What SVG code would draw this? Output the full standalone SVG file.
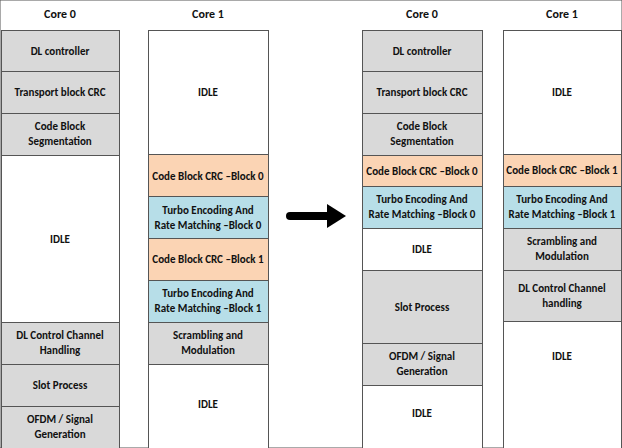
<svg xmlns="http://www.w3.org/2000/svg" width="622" height="448" viewBox="0 0 622 448">
<style>
rect{stroke:#555;stroke-width:1}
.g{fill:#d9d9d9}.o{fill:#fbd4b4}.b{fill:#b7dee8}.w{fill:#fff}
text{font-family:Carlito,"Liberation Sans Narrow","Liberation Sans",sans-serif;font-weight:bold;font-size:11px;fill:#111;text-anchor:middle}
.h{font-size:12px}
</style>
<rect x="0" y="0" width="622" height="448" fill="#fff" stroke="none"/>
<g id="titles">
<text class="h" x="60" y="18">Core 0</text>
<text class="h" x="208" y="18">Core 1</text>
<text class="h" x="422" y="18">Core 0</text>
<text class="h" x="562" y="18">Core 1</text>
</g>
<g id="left-core0">
<g id="l0-dl"><rect class="g" x="1.5" y="30.5" width="118" height="41"/><text x="60" y="54.5">DL controller</text></g>
<g id="l0-tb"><rect class="g" x="1.5" y="71.5" width="118" height="42"/><text x="60" y="96">Transport block CRC</text></g>
<g id="l0-cbs"><rect class="g" x="1.5" y="113.5" width="118" height="42"/><text x="60" y="130">Code Block</text><text x="60" y="145">Segmentation</text></g>
<g id="l0-idle"><rect class="w" x="1.5" y="155.5" width="118" height="167"/><text x="60" y="242.5">IDLE</text></g>
<g id="l0-dlcc"><rect class="g" x="1.5" y="322.5" width="118" height="42"/><text x="60" y="339">DL Control Channel</text><text x="60" y="354">Handling</text></g>
<g id="l0-slot"><rect class="g" x="1.5" y="364.5" width="118" height="42"/><text x="60" y="389">Slot Process</text></g>
<g id="l0-ofdm"><rect class="g" x="1.5" y="406.5" width="118" height="42"/><text x="60" y="423">OFDM / Signal</text><text x="60" y="438">Generation</text></g>
</g>
<g id="left-core1">
<g id="l1-idle1"><rect class="w" x="148.5" y="30.5" width="120" height="124"/><text x="208" y="96">IDLE</text></g>
<g id="l1-crc0"><rect class="o" x="148.5" y="154.5" width="120" height="42"/><text x="208" y="179.5">Code Block CRC –Block 0</text></g>
<g id="l1-te0"><rect class="b" x="148.5" y="196.5" width="120" height="42"/><text x="208" y="213.5">Turbo Encoding And</text><text x="208" y="228.5">Rate Matching –Block 0</text></g>
<g id="l1-crc1"><rect class="o" x="148.5" y="238.5" width="120" height="42"/><text x="208" y="263">Code Block CRC –Block 1</text></g>
<g id="l1-te1"><rect class="b" x="148.5" y="280.5" width="120" height="42"/><text x="208" y="297">Turbo Encoding And</text><text x="208" y="312">Rate Matching –Block 1</text></g>
<g id="l1-scr"><rect class="g" x="148.5" y="322.5" width="120" height="42"/><text x="208" y="339">Scrambling and</text><text x="208" y="354">Modulation</text></g>
<g id="l1-idle2"><rect class="w" x="148.5" y="364.5" width="120" height="84"/><text x="208" y="408">IDLE</text></g>
</g>
<g id="connectors">
<line x1="290" y1="216" x2="330" y2="216" stroke="#000" stroke-width="8" stroke-linecap="round"/>
<polygon points="327,204 346,216 327,228" fill="#000"/>
</g>
<g id="right-core0">
<g id="r0-dl"><rect class="g" x="362.5" y="30.5" width="120" height="41"/><text x="422" y="54.5">DL controller</text></g>
<g id="r0-tb"><rect class="g" x="362.5" y="71.5" width="120" height="42"/><text x="422" y="96">Transport block CRC</text></g>
<g id="r0-cbs"><rect class="g" x="362.5" y="113.5" width="120" height="42"/><text x="422" y="130">Code Block</text><text x="422" y="145">Segmentation</text></g>
<g id="r0-crc0"><rect class="o" x="362.5" y="155.5" width="120" height="31"/><text x="422" y="174.5">Code Block CRC –Block 0</text></g>
<g id="r0-te0"><rect class="b" x="362.5" y="186.5" width="120" height="42"/><text x="422" y="203">Turbo Encoding And</text><text x="422" y="218">Rate Matching –Block 0</text></g>
<g id="r0-idle1"><rect class="w" x="362.5" y="228.5" width="120" height="42"/><text x="422" y="253">IDLE</text></g>
<g id="r0-slot"><rect class="g" x="362.5" y="270.5" width="120" height="73"/><text x="422" y="310.5">Slot Process</text></g>
<g id="r0-ofdm"><rect class="g" x="362.5" y="343.5" width="120" height="42"/><text x="422" y="360">OFDM / Signal</text><text x="422" y="375">Generation</text></g>
<g id="r0-idle2"><rect class="w" x="362.5" y="385.5" width="120" height="63"/><text x="422" y="417">IDLE</text></g>
</g>
<g id="right-core1">
<g id="r1-idle1"><rect class="w" x="503.5" y="30.5" width="118" height="124"/><text x="562" y="96">IDLE</text></g>
<g id="r1-crc1"><rect class="o" x="503.5" y="154.5" width="118" height="32"/><text x="562" y="174">Code Block CRC –Block 1</text></g>
<g id="r1-te1"><rect class="b" x="503.5" y="186.5" width="118" height="42"/><text x="562" y="203">Turbo Encoding And</text><text x="562" y="218">Rate Matching –Block 1</text></g>
<g id="r1-scr"><rect class="g" x="503.5" y="228.5" width="118" height="42"/><text x="562" y="245">Scrambling and</text><text x="562" y="260">Modulation</text></g>
<g id="r1-dlcc"><rect class="g" x="503.5" y="270.5" width="118" height="51"/><text x="562" y="291.5">DL Control Channel</text><text x="562" y="306.5">handling</text></g>
<g id="r1-idle2"><rect class="w" x="503.5" y="321.5" width="118" height="127"/><text x="562" y="360">IDLE</text></g>
</g>
</svg>
